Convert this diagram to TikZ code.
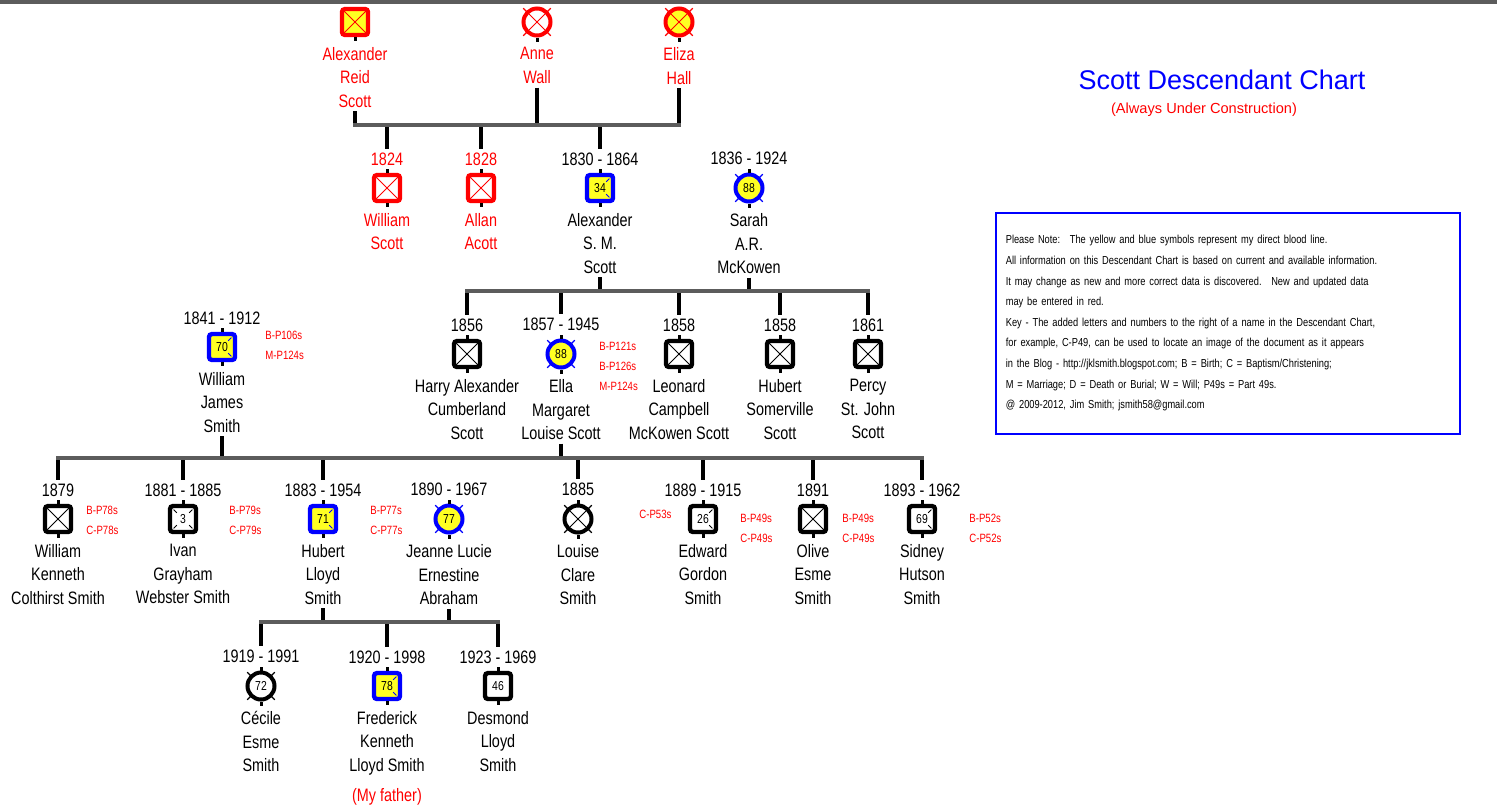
\documentclass[tikz,border=0pt]{standalone}
\usepackage{fontspec}
\setmainfont{Liberation Sans}
\newfontfamily\narrowsans[FakeStretch=0.8]{Liberation Sans}
\usetikzlibrary{positioning}

\definecolor{chartred}{HTML}{FF0000}
\definecolor{chartblue}{HTML}{0000FF}
\definecolor{chartyellow}{HTML}{FFFF22}
\definecolor{bargray}{HTML}{5C5C5C}

\newcommand\namefont{\narrowsans\fontsize{9}{11.75}\selectfont}
\newcommand\reffont{\narrowsans\fontsize{6}{10}\selectfont}
\newcommand\agefont{\narrowsans\fontsize{6.5}{7}\selectfont}
\newcommand\notefont{\narrowsans\fontsize{5.8}{10.3}\selectfont}

\begin{document}
\begin{tikzpicture}[x=0.5pt, y=-0.5pt,
    sq/.style={rectangle, rounded corners=1.5pt, draw, line width=2.2pt, fill=white, minimum size=13pt, inner sep=0pt, font=\agefont},
    circ/.style={circle, draw, line width=2pt, fill=white, minimum size=13.5pt, inner sep=0pt, font=\agefont},
    direct/.style={draw=chartblue, fill=chartyellow},
    early/.style={draw=chartred},
    cross/.style={path picture={\draw[#1, line width=.5pt] (path picture bounding box.north west) -- (path picture bounding box.south east) (path picture bounding box.north east) -- (path picture bounding box.south west);}},
    cross/.default=black,
    tickr/.style={path picture={\draw[line width=.4pt] ([shift={(-1.8pt,-1.8pt)}]path picture bounding box.north east) -- ++(-1.6pt,-1.6pt) ([shift={(-1.8pt,1.8pt)}]path picture bounding box.south east) -- ++(-1.6pt,1.6pt);}},
    tickall/.style={path picture={\draw[line width=.4pt] ([shift={(-1.8pt,-1.8pt)}]path picture bounding box.north east) -- ++(-1.6pt,-1.6pt) ([shift={(-1.8pt,1.8pt)}]path picture bounding box.south east) -- ++(-1.6pt,1.6pt) ([shift={(1.8pt,-1.8pt)}]path picture bounding box.north west) -- ++(1.6pt,-1.6pt) ([shift={(1.8pt,1.8pt)}]path picture bounding box.south west) -- ++(1.6pt,1.6pt);}},
    date/.style={inner sep=0pt, outer sep=2pt, font=\namefont},
    names/.style={align=center, inner sep=0pt, outer sep=2pt, font=\namefont},
    refs/.style={align=left, inner sep=0pt, anchor=west, text=chartred, font=\reffont},
    bar/.style={bargray, line width=2pt, shorten <=-1pt, shorten >=-1pt},
    drop/.style={black, line width=2pt},
    stub/.style={black, line width=1.5pt}]

    \useasboundingbox (0,0) rectangle (1497,805);
    \fill[bargray] (0,0) rectangle (1497,4);

    % title and note
    \node[text=chartblue, font=\fontsize{13.5}{16}\selectfont] (title) at (1222,80) {Scott Descendant Chart};
    \node[text=chartred, font=\fontsize{7.3}{9}\selectfont] (subtitle) at (1204,110) {(Always Under Construction)};
    \node[draw=chartblue, line width=.8pt, anchor=north west, inner xsep=5pt, inner ysep=0pt, text width=222pt, minimum height=110.5pt, align=left, font=\notefont] (note) at (995,212) {Please Note:~ The yellow and blue symbols represent my direct blood line.\\
        All information on this Descendant Chart is based on current and available information.\\
        It may change as new and more correct data is discovered.~ New and updated data\\
        may be entered in red.\\
        Key - The added letters and numbers to the right of a name in the Descendant Chart,\\
        for example, C-P49, can be used to locate an image of the document as it appears\\
        in the Blog - http://jklsmith.blogspot.com; B = Birth; C = Baptism/Christening;\\
        M = Marriage; D = Death or Burial; W = Will; P49s = Part 49s.\\
        @ 2009-2012, Jim Smith; jsmith58@gmail.com};

    % generation 0
    \node[sq, early, fill=chartyellow, cross=chartred] (ars) at (355,22) {};
    \node[circ, early, cross=chartred] (anne) at (537,22) {};
    \node[circ, early, fill=chartyellow, cross=chartred] (eliza) at (679,22) {};
    \node[names, text=chartred, below=3pt of ars] (arsN) {Alexander\\Reid\\Scott};
    \node[names, text=chartred, below=3pt of anne] (anneN) {Anne\\Wall};
    \node[names, text=chartred, below=3pt of eliza] (elizaN) {Eliza\\Hall};

    % generation 1
    \node[sq, early, cross=chartred] (ws) at (387,188) {};
    \node[sq, early, cross=chartred] (aa) at (481,188) {};
    \node[sq, direct, tickr] (asms) at (600,188) {34};
    \node[circ, direct] (sarah) at (749,188) {88};
    \node[date, text=chartred, above=1.75pt of ws] (wsD) {1824};
    \node[date, text=chartred, above=1.75pt of aa] (aaD) {1828};
    \node[date, above=1.75pt of asms] (asmsD) {1830 - 1864};
    \node[date, above=1.75pt of sarah] (sarahD) {1836 - 1924};
    \node[names, text=chartred, below=3pt of ws] (wsN) {William\\Scott};
    \node[names, text=chartred, below=3pt of aa] (aaN) {Allan\\Acott};
    \node[names, below=3pt of asms] (asmsN) {Alexander\\S. M.\\Scott};
    \node[names, below=3pt of sarah] (sarahN) {Sarah\\A.R.\\McKowen};

    % generation 2
    \node[sq, direct, tickr] (wjs) at (222,347) {70};
    \node[sq, cross] (hacs) at (467,354) {};
    \node[circ, direct] (emls) at (561,354) {88};
    \node[sq, cross] (lcms) at (679,354) {};
    \node[sq, cross] (hss) at (780,354) {};
    \node[sq, cross] (psjs) at (868,354) {};
    \node[date, above=1.75pt of wjs] (wjsD) {1841 - 1912};
    \node[date, above=1.75pt of hacs] (hacsD) {1856};
    \node[date, above=1.75pt of emls] (emlsD) {1857 - 1945};
    \node[date, above=1.75pt of lcms] (lcmsD) {1858};
    \node[date, above=1.75pt of hss] (hssD) {1858};
    \node[date, above=1.75pt of psjs] (psjsD) {1861};
    \node[names, below=3pt of wjs] (wjsN) {William\\James\\Smith};
    \node[names, below=3pt of hacs] (hacsN) {Harry Alexander\\Cumberland\\Scott};
    \node[names, below=3pt of emls] (emlsN) {Ella\\Margaret\\Louise Scott};
    \node[names, below=3pt of lcms] (lcmsN) {Leonard\\Campbell\\McKowen Scott};
    \node[names, below=3pt of hss] (hssN) {Hubert\\Somerville\\Scott};
    \node[names, below=3pt of psjs] (psjsN) {Percy\\St. John\\Scott};
    \node[refs] (wjsR) at (265,345.5) {B-P106s\\M-P124s};
    \node[refs] (emlsR) at (599,366) {B-P121s\\B-P126s\\M-P124s};

    % generation 3
    \node[sq, cross] (wkcs) at (58,519) {};
    \node[sq, tickall] (igws) at (183,519) {3};
    \node[sq, direct, tickr] (hls) at (323,519) {71};
    \node[circ, direct] (jlea) at (449,519) {77};
    \node[circ, cross] (lcs) at (578,519) {};
    \node[sq, tickr] (egs) at (703,519) {26};
    \node[sq, cross] (oes) at (813,519) {};
    \node[sq, tickr] (shs) at (922,519) {69};
    \node[date, above=1.75pt of wkcs] (wkcsD) {1879};
    \node[date, above=1.75pt of igws] (igwsD) {1881 - 1885};
    \node[date, above=1.75pt of hls] (hlsD) {1883 - 1954};
    \node[date, above=1.75pt of jlea] (jleaD) {1890 - 1967};
    \node[date, above=1.75pt of lcs] (lcsD) {1885};
    \node[date, above=1.75pt of egs] (egsD) {1889 - 1915};
    \node[date, above=1.75pt of oes] (oesD) {1891};
    \node[date, above=1.75pt of shs] (shsD) {1893 - 1962};
    \node[names, below=3pt of wkcs] (wkcsN) {William\\Kenneth\\Colthirst Smith};
    \node[names, below=3pt of igws] (igwsN) {Ivan\\Grayham\\Webster Smith};
    \node[names, below=3pt of hls] (hlsN) {Hubert\\Lloyd\\Smith};
    \node[names, below=3pt of jlea] (jleaN) {Jeanne Lucie\\Ernestine\\Abraham};
    \node[names, below=3pt of lcs] (lcsN) {Louise\\Clare\\Smith};
    \node[names, below=3pt of egs] (egsN) {Edward\\Gordon\\Smith};
    \node[names, below=3pt of oes] (oesN) {Olive\\Esme\\Smith};
    \node[names, below=3pt of shs] (shsN) {Sidney\\Hutson\\Smith};
    \node[refs] (wkcsR) at (86,520) {B-P78s\\C-P78s};
    \node[refs] (igwsR) at (229,520) {B-P79s\\C-P79s};
    \node[refs] (hlsR) at (370,520) {B-P77s\\C-P77s};
    \node[refs] (egsL) at (639,514) {C-P53s};
    \node[refs] (egsR) at (740,528) {B-P49s\\C-P49s};
    \node[refs] (oesR) at (842,528) {B-P49s\\C-P49s};
    \node[refs] (shsR) at (969,528) {B-P52s\\C-P52s};

    % generation 4
    \node[circ] (ces) at (261,686) {72};
    \node[sq, direct, tickr] (fkls) at (387,686) {78};
    \node[sq] (dls) at (498,686) {46};
    \node[date, above=1.75pt of ces] (cesD) {1919 - 1991};
    \node[date, above=1.75pt of fkls] (fklsD) {1920 - 1998};
    \node[date, above=1.75pt of dls] (dlsD) {1923 - 1969};
    \node[names, below=3pt of ces] (cesN) {Cécile\\Esme\\Smith};
    \node[names, below=3pt of fkls] (fklsN) {Frederick\\Kenneth\\Lloyd Smith};
    \node[names, below=3pt of dls] (dlsN) {Desmond\\Lloyd\\Smith};
    \node[names, text=chartred] (father) at (387,797) {(My father)};

    % family bars
    \coordinate (fa1) at (355,125);
    \coordinate (fa2) at (679,125);
    \coordinate (fb1) at (467,291);
    \coordinate (fb2) at (868,291);
    \coordinate (fc1) at (58,458);
    \coordinate (fc2) at (922,458);
    \coordinate (fd1) at (261,622);
    \coordinate (fd2) at (498,622);

    \draw[drop] (arsN.south) -- (arsN.south |- fa1) (anneN.south) -- (anneN.south |- fa1) (elizaN.south) -- (elizaN.south |- fa1);
    \draw[drop] (wsD.north |- fa1) -- (wsD.north) (aaD.north |- fa1) -- (aaD.north) (asmsD.north |- fa1) -- (asmsD.north);
    \draw[bar] (fa1) -- (fa2);

    \draw[drop] (asmsN.south) -- (asmsN.south |- fb1) (sarahN.south) -- (sarahN.south |- fb1);
    \draw[drop] (hacsD.north |- fb1) -- (hacsD.north) (emlsD.north |- fb1) -- (emlsD.north) (lcmsD.north |- fb1) -- (lcmsD.north) (hssD.north |- fb1) -- (hssD.north) (psjsD.north |- fb1) -- (psjsD.north);
    \draw[bar] (fb1) -- (fb2);

    \draw[drop] (wjsN.south) -- (wjsN.south |- fc1) (emlsN.south) -- (emlsN.south |- fc1);
    \draw[drop] (wkcsD.north |- fc1) -- (wkcsD.north) (igwsD.north |- fc1) -- (igwsD.north) (hlsD.north |- fc1) -- (hlsD.north) (lcsD.north |- fc1) -- (lcsD.north) (egsD.north |- fc1) -- (egsD.north) (oesD.north |- fc1) -- (oesD.north) (shsD.north |- fc1) -- (shsD.north);
    \draw[bar] (fc1) -- (fc2);

    \draw[drop] (hlsN.south) -- (hlsN.south |- fd1) (jleaN.south) -- (jleaN.south |- fd1);
    \draw[drop] (cesD.north |- fd1) -- (cesD.north) (fklsD.north |- fd1) -- (fklsD.north) (dlsD.north |- fd1) -- (dlsD.north);
    \draw[bar] (fd1) -- (fd2);

    % stubs and circle marks
    \foreach \n in {ars,anne,eliza,ws,aa,asms,sarah,wjs,hacs,emls,lcms,hss,psjs,wkcs,igws,hls,jlea,lcs,egs,oes,shs,ces,fkls,dls}
        \draw[stub] (\n.south) -- ++(0,4);
    \foreach \n in {ws,aa,asms,sarah,wjs,hacs,emls,lcms,hss,psjs,wkcs,igws,hls,jlea,lcs,egs,oes,shs,ces,fkls,dls}
        \draw[stub] (\n.north) -- ++(0,-4);
    \foreach \n/\c in {anne/chartred,eliza/chartred,sarah/chartblue,emls/chartblue,jlea/chartblue,lcs/black,ces/black}
        \foreach \a in {45,135,225,315}
            \draw[\c, line width=.6pt] ([shift={(\a:-1.5pt)}]\n.\a) -- ([shift={(\a:2pt)}]\n.\a);
\end{tikzpicture}
\end{document}
